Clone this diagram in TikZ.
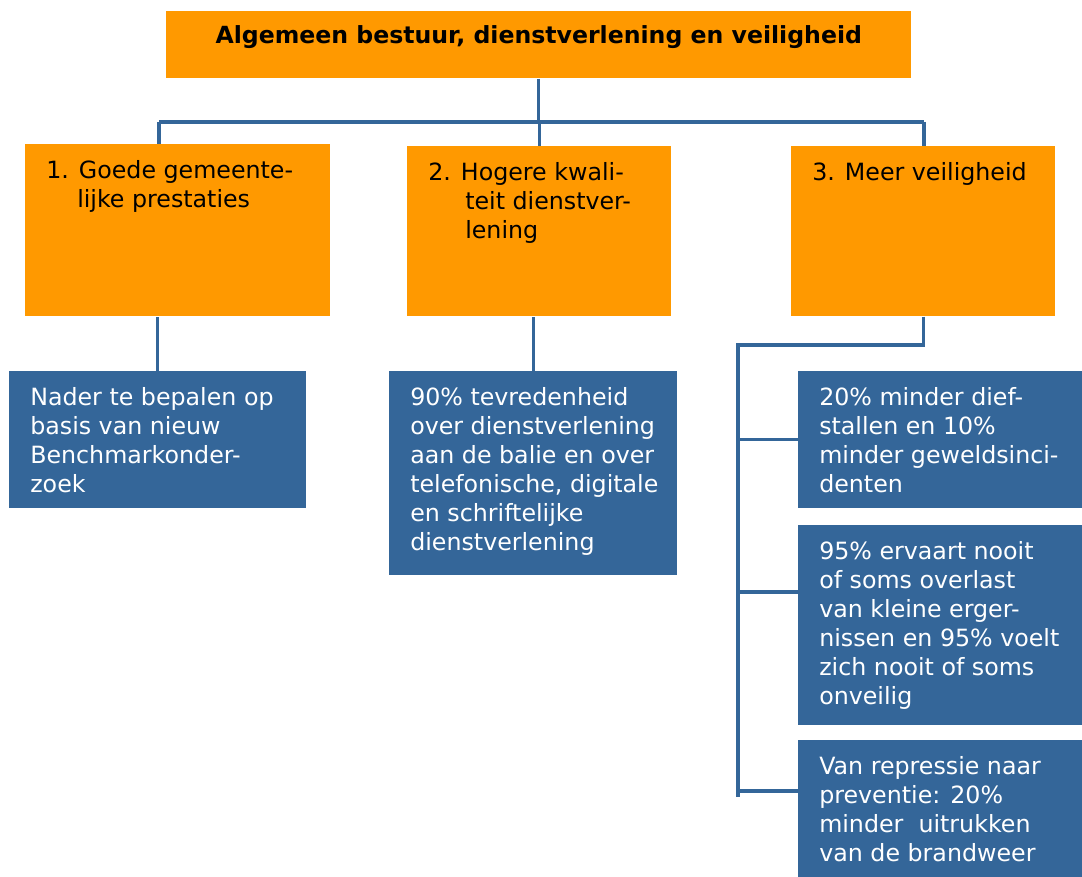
\documentclass[tikz,border=0pt]{standalone}
\usepackage{fontspec}
\setmainfont{DejaVu Sans}
\usetikzlibrary{calc}

\definecolor{oranje}{RGB}{255,153,0}
\definecolor{blauw}{RGB}{52,102,153}

\newdimen\px \px=0.75pt
% vak: breedte, hoogte, tekst (in pixels)
\newcommand{\vak}[3]{%
  \begin{minipage}[t][#2\px][t]{#1\px}%
  \vspace*{13.5\px}\leftskip=21\px\noindent\strut #3\end{minipage}}

\tikzset{
  doel/.style={fill=oranje, anchor=north west, inner sep=0pt, text=black,
    font=\fontsize{17.8}{21.75}\selectfont},
  norm/.style={fill=blauw, anchor=north west, inner sep=0pt, text=white,
    font=\fontsize{17.8}{21.75}\selectfont},
  lijn/.style={draw=blauw, line width=2.4pt}
}

\begin{document}
\begin{tikzpicture}[x=0.75pt, y=-0.75pt]
  \useasboundingbox (0,0) rectangle (1082,877);

  \node[doel] (titel) at (166,11) {\begin{minipage}[t][67\px][t]{745\px}%
    \vspace*{12\px}\centering\strut\fontsize{17.7}{21}\selectfont\bfseries
    Algemeen bestuur, dienstverlening en veiligheid\end{minipage}};

  \node[doel] (g1) at (25,144) {\vak{305}{172}{\hangindent=31\px\hangafter=1
    1. Goede gemeente-\\lijke prestaties}};
  \node[doel] (g2) at (407,146) {\vak{264}{170}{\hangindent=37\px\hangafter=1
    2. Hogere kwali-\\teit dienstver-\\lening}};
  \node[doel] (g3) at (791,146) {\vak{264}{170}{3. Meer veiligheid}};

  \node[norm] (b1) at (9,371) {\vak{297}{137}{Nader te bepalen op\\basis van nieuw\\Benchmarkonder-\\zoek}};
  \node[norm] (b2) at (389,371) {\vak{288}{204}{90\% tevredenheid\\over dienstverlening\\aan de balie en over\\telefonische, digitale\\en schriftelijke\\dienstverlening}};
  \node[norm] (b3) at (798,371) {\vak{284}{137}{20\% minder dief-\\stallen en 10\%\\minder geweldsinci-\\denten}};
  \node[norm] (b4) at (798,525) {\vak{284}{200}{95\% ervaart nooit\\of soms overlast\\van kleine erger-\\nissen en 95\% voelt\\zich nooit of soms\\onveilig}};
  \node[norm] (b5) at (798,740) {\vak{284}{137}{Van repressie naar\\preventie: 20\%\\minder\ \ uitrukken\\van de brandweer}};

  % boom bovenaan
  \coordinate (balkL) at (159,122);
  \coordinate (balkR) at (924,122);
  \draw[lijn, line width=3pt] (balkL) -- (balkR);
  \draw[lijn] (titel.south) -- (titel.south |- balkL);
  \draw[lijn] (balkL) -- (balkL |- g1.north);
  \draw[lijn] (g2.north |- balkL) -- (g2.north);
  \draw[lijn] (balkR) -- (balkR |- g3.north);

  % naar de normen
  \draw[lijn] (b1.north) -- (b1.north |- g1.south);
  \draw[lijn] (b2.north) -- (b2.north |- g2.south);
  \coordinate (rug) at (738,345);
  \coordinate (rugEind) at (738,797);
  \draw[lijn] (g3.south) |- (rug) -- (rugEind);
  \coordinate (t4) at ($(b4.north west)+(0,67)$);
  \coordinate (t5) at ($(b5.north west)+(0,51)$);
  \draw[lijn] (rug |- b3.west) -- (b3.west);
  \draw[lijn] (rug |- t4) -- (t4);
  \draw[lijn] (rug |- t5) -- (t5);
\end{tikzpicture}
\end{document}
